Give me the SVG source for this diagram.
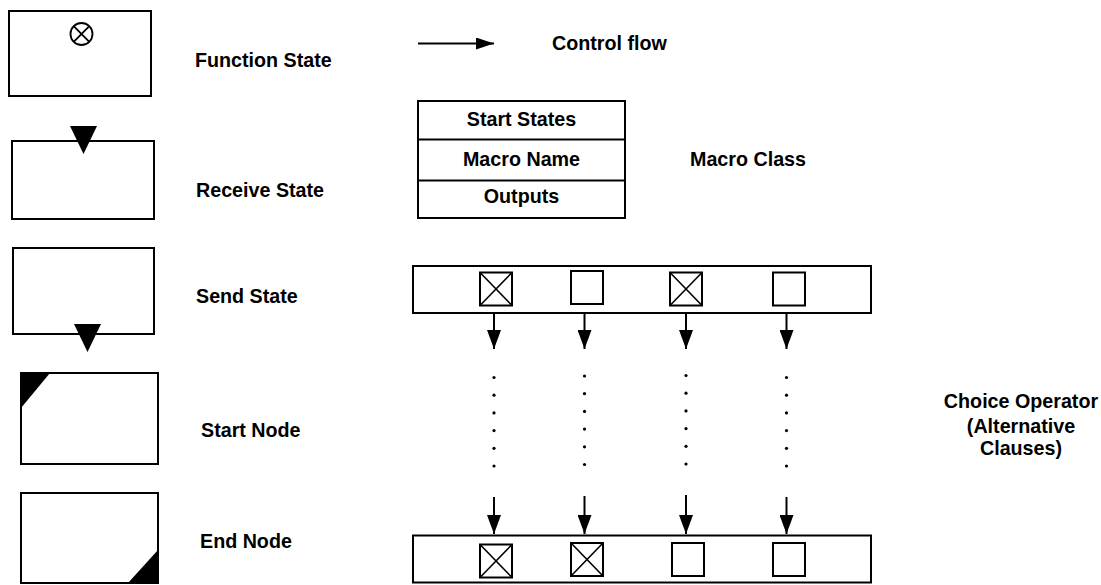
<svg xmlns="http://www.w3.org/2000/svg" width="1101" height="585" viewBox="0 0 1101 585">
  <defs>
    <style>
      .box { fill: #fff; stroke: #000; stroke-width: 2; }
      .ln { fill: none; stroke: #000; stroke-width: 2; }
      .fillk { fill: #000; stroke: none; }
      .lbl { font-family: "Liberation Sans", Arial, sans-serif; font-weight: bold; font-size: 19.7px; fill: #000; }
      .mid { text-anchor: middle; }
      .dot { fill: #000; }
    </style>
    <marker id="arrow" viewBox="0 0 18 12" refX="18" refY="6" markerWidth="18" markerHeight="12" markerUnits="userSpaceOnUse" orient="auto">
      <path d="M0,0 L18,6 L0,12 Z" fill="#000"/>
    </marker>
    <marker id="arrowDown" viewBox="0 0 19 14" refX="19" refY="7" markerWidth="19" markerHeight="14" markerUnits="userSpaceOnUse" orient="auto">
      <path d="M0,0 L19,7 L0,14 Z" fill="#000"/>
    </marker>
    <!-- crossed selection square -->
    <symbol id="crossed" viewBox="0 0 32 33" overflow="visible">
      <rect x="0" y="0" width="32" height="33" fill="#fff" stroke="#000" stroke-width="2"/>
      <path d="M0,0 L32,33 M32,0 L0,33" stroke="#000" stroke-width="1.6" fill="none"/>
    </symbol>
    <symbol id="empty" viewBox="0 0 32 33" overflow="visible">
      <rect x="0" y="0" width="32" height="33" fill="#fff" stroke="#000" stroke-width="2"/>
    </symbol>
  </defs>

  <!-- Function State -->
  <g id="function-state">
    <rect class="box" x="9" y="11" width="142" height="85"/>
    <circle cx="81.5" cy="34" r="11" fill="none" stroke="#000" stroke-width="1.8"/>
    <path d="M73.7,26.2 L89.3,41.8 M89.3,26.2 L73.7,41.8" stroke="#000" stroke-width="1.8"/>
    <text class="lbl" x="195" y="67">Function State</text>
  </g>

  <!-- Receive State -->
  <g id="receive-state">
    <rect class="box" x="12" y="141" width="142" height="78"/>
    <polygon class="fillk" points="70,126 97,126 83.5,154"/>
    <text class="lbl" x="196" y="197">Receive State</text>
  </g>

  <!-- Send State -->
  <g id="send-state">
    <rect class="box" x="13" y="248" width="141" height="86"/>
    <polygon class="fillk" points="74,324 101,324 87.5,352"/>
    <text class="lbl" x="196" y="303">Send State</text>
  </g>

  <!-- Start Node -->
  <g id="start-node">
    <rect class="box" x="21" y="373" width="137" height="91"/>
    <polygon class="fillk" points="21,373 50,373 21,408"/>
    <text class="lbl" x="201" y="437">Start Node</text>
  </g>

  <!-- End Node -->
  <g id="end-node">
    <rect class="box" x="21" y="493" width="137" height="90"/>
    <polygon class="fillk" points="158,550 158,583 128,583"/>
    <text class="lbl" x="200" y="548">End Node</text>
  </g>

  <!-- Control flow legend -->
  <g id="control-flow">
    <line class="ln" x1="418" y1="43.5" x2="494" y2="43.5" marker-end="url(#arrow)"/>
    <text class="lbl" x="552" y="50">Control flow</text>
  </g>

  <!-- Macro Class -->
  <g id="macro-class">
    <rect class="box" x="418" y="101" width="207" height="117"/>
    <line class="ln" x1="418" y1="139.5" x2="625" y2="139.5"/>
    <line class="ln" x1="418" y1="180.5" x2="625" y2="180.5"/>
    <text class="lbl mid" x="521.5" y="126">Start States</text>
    <text class="lbl mid" x="521.5" y="166">Macro Name</text>
    <text class="lbl mid" x="521.5" y="203">Outputs</text>
    <text class="lbl" x="690" y="166">Macro Class</text>
  </g>

  <!-- Choice operator: upper clause bar -->
  <g id="choice-top">
    <rect class="box" x="413" y="266" width="458" height="47"/>
    <use href="#crossed" x="480" y="272.5" width="32" height="33"/>
    <use href="#empty" x="571" y="271" width="32" height="33"/>
    <use href="#crossed" x="670" y="272.5" width="32" height="33"/>
    <use href="#empty" x="773" y="272.5" width="32" height="33"/>
  </g>

  <!-- Choice operator: lower clause bar -->
  <g id="choice-bottom">
    <rect class="box" x="413" y="535.5" width="458" height="47"/>
    <use href="#crossed" x="480" y="544.5" width="32" height="33"/>
    <use href="#crossed" x="571" y="543" width="32" height="33"/>
    <use href="#empty" x="672" y="543" width="32" height="33"/>
    <use href="#empty" x="773" y="543" width="32" height="33"/>
  </g>

  <g id="choice-label">
    <text class="lbl mid" x="1021" y="408">Choice Operator</text>
    <text class="lbl mid" x="1021" y="433">(Alternative</text>
    <text class="lbl mid" x="1021" y="455">Clauses)</text>
  </g>

  <!-- Connectors -->
  <g id="connectors">
    <line class="ln" x1="494" y1="313" x2="494" y2="349" marker-end="url(#arrowDown)"/>
    <line class="ln" x1="584.5" y1="313" x2="584.5" y2="349" marker-end="url(#arrowDown)"/>
    <line class="ln" x1="686" y1="313" x2="686" y2="349" marker-end="url(#arrowDown)"/>
    <line class="ln" x1="786.5" y1="313" x2="786.5" y2="349" marker-end="url(#arrowDown)"/>

    <line class="ln" x1="494" y1="497" x2="494" y2="534" marker-end="url(#arrowDown)"/>
    <line class="ln" x1="584.5" y1="496" x2="584.5" y2="534" marker-end="url(#arrowDown)"/>
    <line class="ln" x1="686" y1="495" x2="686" y2="534" marker-end="url(#arrowDown)"/>
    <line class="ln" x1="786.5" y1="497" x2="786.5" y2="534" marker-end="url(#arrowDown)"/>

    <!-- dotted continuation -->
    <g class="dot">
      <circle cx="494" cy="377.5" r="1.6"/><circle cx="494" cy="395.2" r="1.6"/><circle cx="494" cy="412.9" r="1.6"/><circle cx="494" cy="430.6" r="1.6"/><circle cx="494" cy="448.3" r="1.6"/><circle cx="494" cy="466" r="1.6"/>
      <circle cx="584.5" cy="376" r="1.6"/><circle cx="584.5" cy="393.7" r="1.6"/><circle cx="584.5" cy="411.4" r="1.6"/><circle cx="584.5" cy="429.1" r="1.6"/><circle cx="584.5" cy="446.8" r="1.6"/><circle cx="584.5" cy="464.5" r="1.6"/>
      <circle cx="686" cy="375.5" r="1.6"/><circle cx="686" cy="393.2" r="1.6"/><circle cx="686" cy="410.9" r="1.6"/><circle cx="686" cy="428.6" r="1.6"/><circle cx="686" cy="446.3" r="1.6"/><circle cx="686" cy="464" r="1.6"/>
      <circle cx="786.5" cy="377.5" r="1.6"/><circle cx="786.5" cy="395.2" r="1.6"/><circle cx="786.5" cy="412.9" r="1.6"/><circle cx="786.5" cy="430.6" r="1.6"/><circle cx="786.5" cy="448.3" r="1.6"/><circle cx="786.5" cy="466" r="1.6"/>
    </g>
  </g>
</svg>
